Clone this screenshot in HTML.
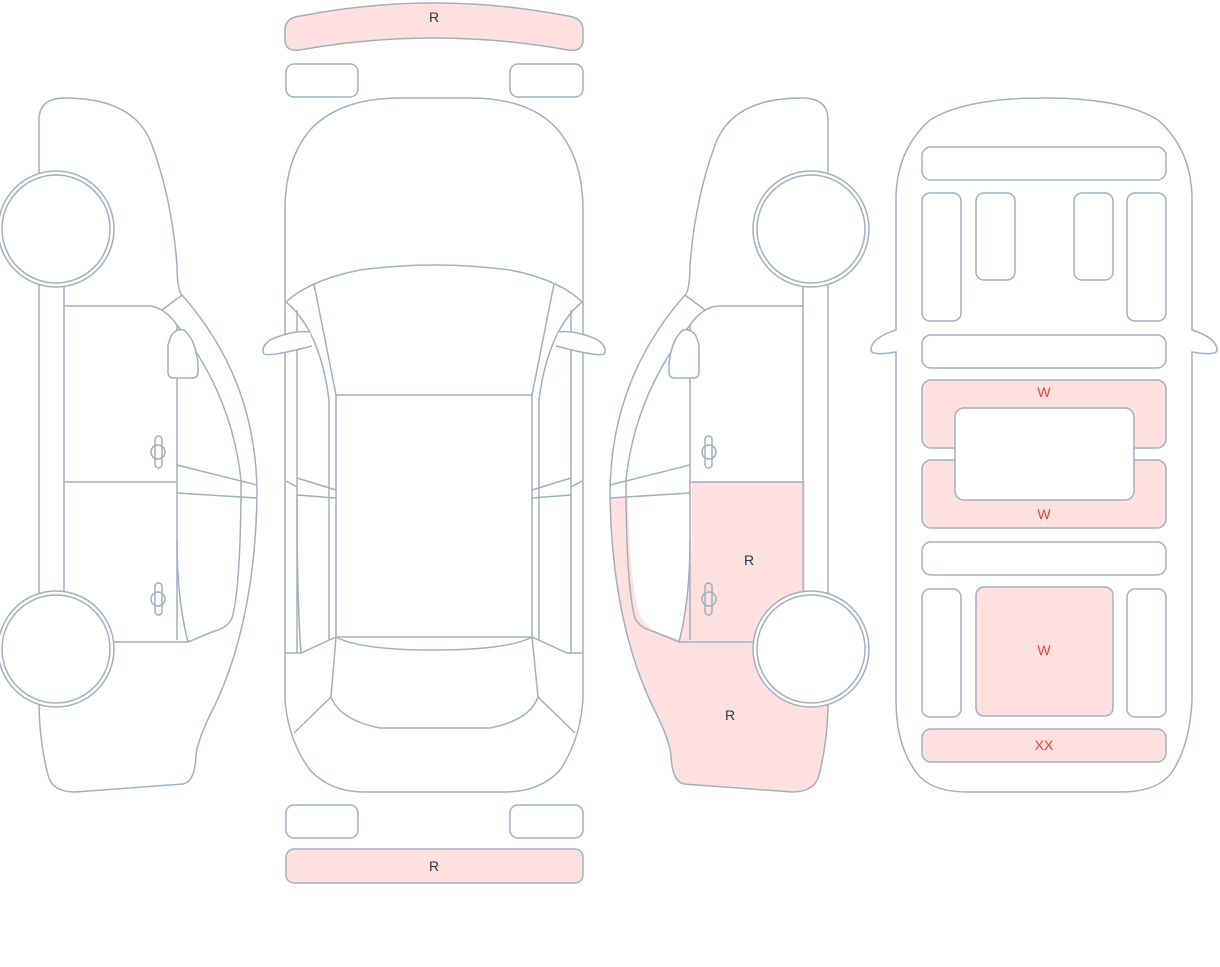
<!DOCTYPE html>
<html><head><meta charset="utf-8"><style>
html,body{margin:0;padding:0;background:#fff;width:1220px;height:967px;overflow:hidden}
svg{display:block}
text{font-family:"Liberation Sans",sans-serif;font-size:14px;text-anchor:middle}
</style></head><body>
<svg width="1220" height="967" viewBox="0 0 1220 967" xmlns="http://www.w3.org/2000/svg">
<defs>
<path id="bodyfill" d="M39,120 Q39,98 65,98 Q135,98 152,145 Q172,200 177,265 Q177,290 182,295 Q257,380 257,495 Q255,620 215,705 Q198,738 196,755 Q195,782 183,784 L75,792 Q52,792 48,775 Q39,740 39,700 Z"/>
<clipPath id="lowclip"><path d="M600,497 L628,497 Q630,590 640,615 Q645,625 656,632 L680,640 L900,640 L900,800 L600,800 Z"/></clipPath>
<g id="side" fill="none" stroke="#a3afbf" stroke-width="1.5">
  <path d="M39,120 Q39,98 65,98 Q135,98 152,145 Q172,200 177,265 Q177,290 182,295 Q257,380 257,495 Q255,620 215,705 Q198,738 196,755 Q195,782 183,784 L75,792 Q52,792 48,775 Q39,740 39,700"/>
  <line x1="39" y1="120" x2="39" y2="175"/>
  <line x1="39" y1="283" x2="39" y2="595"/>
  <line x1="64" y1="283" x2="64" y2="595"/>
  <path d="M64,306 L150,306 Q165,308 177,325 L177,640"/>
  <path d="M162,310 L182,295"/>
  <path d="M177,325 Q232,395 241,480 L241,498 Q240,590 232,618 Q228,628 212,632 L188,642 L110,642"/>
  <path d="M188,642 Q177,600 177,540"/>
  <line x1="64" y1="482" x2="177" y2="482"/>
  <line x1="177" y1="465" x2="257" y2="485"/>
  <line x1="177" y1="493" x2="257" y2="498"/>
  <path d="M171,336 Q176,328 184,330 Q196,340 198,365 L198,372 Q198,378 192,378 L174,378 Q168,378 168,372 L168,345 Z" fill="#fff"/>
  <rect x="155" y="436" width="7" height="32" rx="3.5"/>
  <circle cx="158" cy="452" r="7"/>
  <rect x="155" y="583" width="7" height="32" rx="3.5"/>
  <circle cx="158" cy="599" r="7"/>
  <circle cx="56" cy="229" r="58" fill="#fff"/>
  <circle cx="56" cy="229" r="54" fill="#fff"/>
  <circle cx="56" cy="649" r="58" fill="#fff"/>
  <circle cx="56" cy="649" r="54" fill="#fff"/>
</g>
</defs>

<use href="#side"/>

<!-- right side view pink fills -->
<path d="M692,481 L805,481 L805,640 L680,640 Q690,590 692,540 Z" fill="#fee1de"/>
<g clip-path="url(#lowclip)">
  <use href="#bodyfill" transform="translate(867,0) scale(-1,1)" fill="#fee1de"/>
</g>
<use href="#side" transform="translate(867,0) scale(-1,1)"/>
<text x="749" y="565" fill="#2d3748">R</text>
<text x="730" y="720" fill="#2d3748">R</text>

<!-- top view -->
<g fill="none" stroke="#a3afbf" stroke-width="1.5">
  <path d="M285,30 Q285,18 300,16 Q434,-10 568,16 Q583,18 583,30 L583,40 Q583,52 568,50 Q434,26 300,50 Q285,52 285,40 Z" fill="#fee1de"/>
  <rect x="286" y="64" width="72" height="33" rx="8"/>
  <rect x="510" y="64" width="73" height="33" rx="8"/>
  <rect x="286" y="805" width="72" height="33" rx="8"/>
  <rect x="510" y="805" width="73" height="33" rx="8"/>
  <rect x="286" y="849" width="297" height="34" rx="8" fill="#fee1de"/>
  <path d="M285,210 Q285,160 310,130 Q340,98 400,98 L470,98 Q530,98 558,130 Q583,160 583,210 L583,700 Q580,740 560,770 Q540,792 505,792 L365,792 Q330,792 310,770 Q288,740 285,700 Z"/>
  <path d="M286,302 Q310,280 360,270 Q434,260 510,270 Q560,280 582,302"/>
  <line x1="314" y1="284" x2="336" y2="395"/>
  <line x1="554" y1="284" x2="532" y2="395"/>
  <rect x="336" y="395" width="196" height="242"/>
  <path d="M297,310 L297,653 M286,653 L301,653 L336,637"/>
  <path d="M301,653 Q297,600 297,500"/>
  <path d="M286,302 Q320,330 329,400 L329,640"/>
  <path d="M571,310 L571,653 M582,653 L567,653 L532,637"/>
  <path d="M582,302 Q548,330 539,400 L539,640"/>
  <path d="M286,481 L297,487 M297,478 L336,490 M297,495 L336,498"/>
  <path d="M582,481 L571,487 M571,478 L532,490 M571,495 L532,498"/>
  <path d="M336,637 Q360,650 434,650 Q508,650 532,637"/>
  <path d="M336,637 L331,697 Q340,720 380,728 L490,728 Q530,720 538,697 L532,637"/>
  <line x1="331" y1="697" x2="294" y2="733"/>
  <line x1="538" y1="697" x2="575" y2="733"/>
  <path d="M310,332 Q292,330 270,340 Q260,348 264,354 Q270,357 312,346" fill="#fff"/>
  <path d="M558,332 Q576,330 598,340 Q608,348 604,354 Q598,357 556,346" fill="#fff"/>
</g>
<text x="434" y="22" fill="#2d3748">R</text>
<text x="434" y="871" fill="#2d3748">R</text>

<!-- interior view -->
<g fill="none" stroke="#a3afbf" stroke-width="1.5">
  <path d="M896,200 Q896,150 930,120 Q965,98 1044,98 Q1123,98 1158,120 Q1192,150 1192,200 L1192,330 Q1217,338 1217,350 Q1217,356 1192,352 L1192,700 Q1190,745 1172,772 Q1158,792 1120,792 L968,792 Q930,792 916,772 Q896,745 896,700 L896,352 Q871,356 871,350 Q871,338 896,330 Z"/>
  <rect x="922" y="147" width="244" height="33" rx="9"/>
  <rect x="922" y="193" width="39" height="128" rx="8"/>
  <rect x="976" y="193" width="39" height="87" rx="8"/>
  <rect x="1074" y="193" width="39" height="87" rx="8"/>
  <rect x="1127" y="193" width="39" height="128" rx="8"/>
  <rect x="922" y="335" width="244" height="33" rx="9"/>
  <rect x="922" y="380" width="244" height="68" rx="9" fill="#fee1de"/>
  <rect x="922" y="460" width="244" height="68" rx="9" fill="#fee1de"/>
  <rect x="955" y="408" width="179" height="92" rx="9" fill="#fff"/>
  <rect x="922" y="542" width="244" height="33" rx="9"/>
  <rect x="922" y="589" width="39" height="128" rx="8"/>
  <rect x="976" y="587" width="137" height="129" rx="8" fill="#fee1de"/>
  <rect x="1127" y="589" width="39" height="128" rx="8"/>
  <rect x="922" y="729" width="244" height="33" rx="9" fill="#fee1de"/>
</g>
<text x="1044" y="397" fill="#e53e3e">W</text>
<text x="1044" y="519" fill="#e53e3e">W</text>
<text x="1044" y="655" fill="#e53e3e">W</text>
<text x="1044" y="750" fill="#e53e3e">XX</text>
</svg>
</body></html>
